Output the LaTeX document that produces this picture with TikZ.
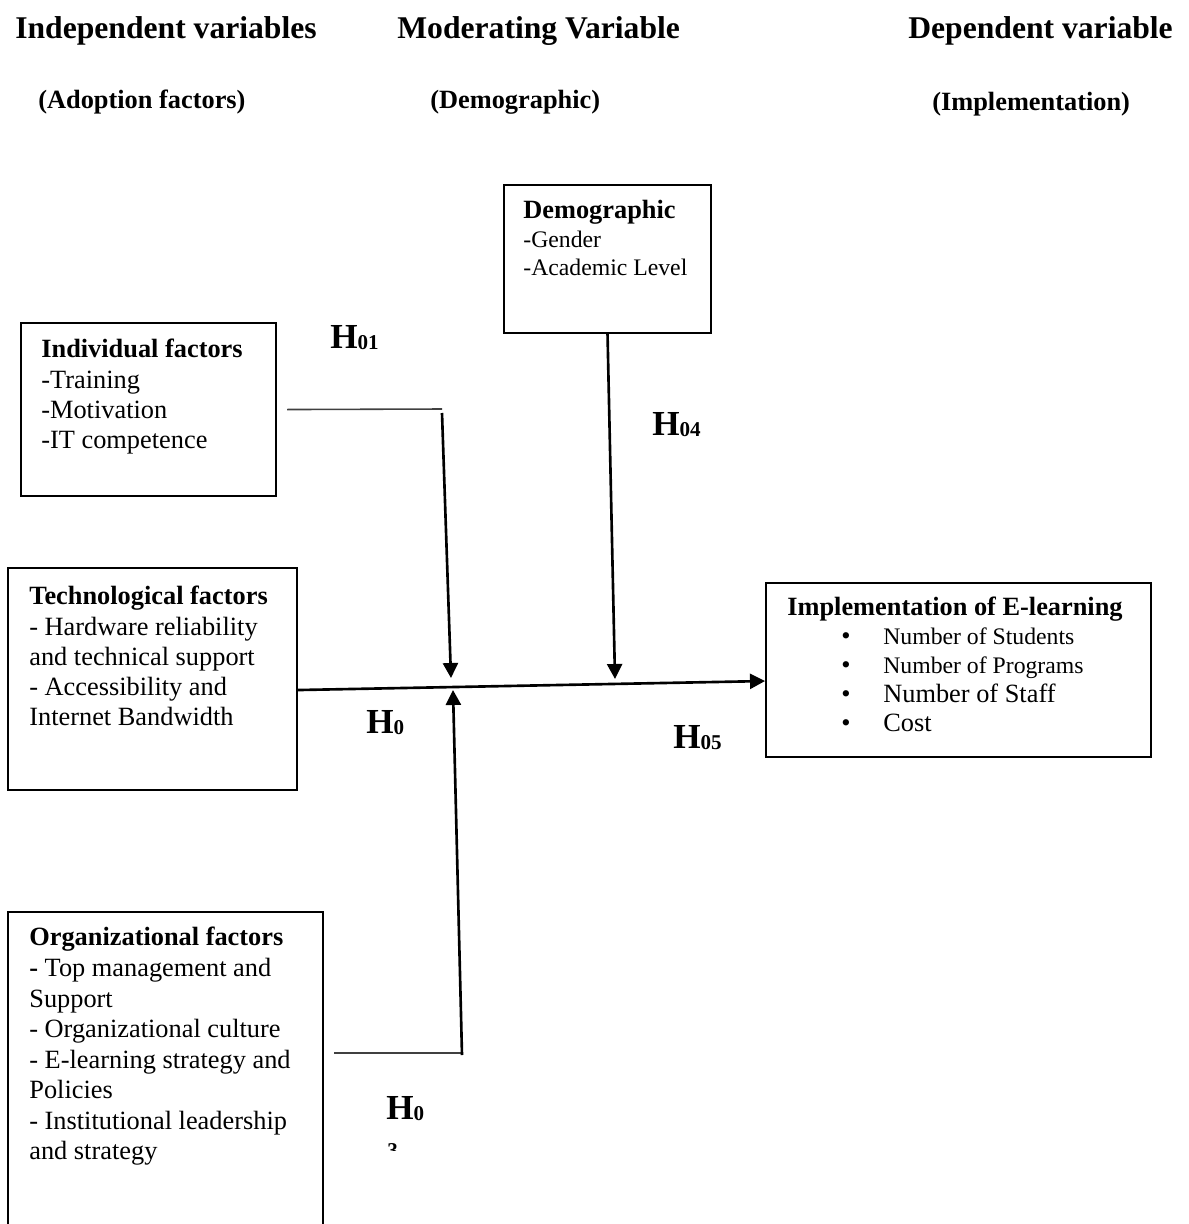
\documentclass[tikz,border=0pt]{standalone}
\usepackage{fontspec}
\setmainfont{Liberation Serif}
\usepackage{tikz}
\usetikzlibrary{arrows.meta}

\newcommand{\hyplabel}[1]{\textbf{H\raisebox{-1pt}{\fontsize{12}{12}\selectfont #1}}}

\begin{document}
\begin{tikzpicture}[
    x=0.02cm, y=-0.02cm,
    heading/.style={
        anchor=base west,
        inner sep=0pt,
        font=\fontsize{18}{20}\selectfont\bfseries
    },
    subheading/.style={
        heading,
        font=\fontsize{15}{17}\selectfont\bfseries
    },
    factorbox/.style={
        draw,
        line width=1.2pt,
        inner sep=0pt,
        anchor=north west
    },
    boxtext/.style={
        anchor=north west,
        inner sep=0pt,
        align=left,
        font=\fontsize{15}{17.2}\selectfont
    },
    hyp/.style={
        anchor=base west,
        inner sep=0pt,
        font=\fontsize{20}{22}\selectfont
    },
    link/.style={
        draw=black!75,
        line width=0.9pt
    },
    effect/.style={
        line width=1.5pt,
        -{Triangle[length=0.3cm,width=0.3cm]}
    }
]

\useasboundingbox (0,0) rectangle (1188,1224);
\clip (0,0) rectangle (1188,1224);

% ============================================================
% Column titles
% ============================================================

\node[heading] (indephead) at (15,38) {Independent variables};
\node[heading] (modhead) at (397,38) {Moderating Variable};
\node[heading] (dephead) at (908,38) {Dependent variable};

\node[subheading] (indepsub) at (38,108) {(Adoption factors)};
\node[subheading] (modsub) at (430,108) {(Demographic)};
\node[subheading] (depsub) at (932,110) {(Implementation)};

% ============================================================
% Moderating variable
% ============================================================

\node[factorbox, minimum width=4.14cm, minimum height=2.96cm]
    (demo) at (503,184) {};
\node[boxtext, font=\fontsize{13.5}{16.2}\selectfont] (demotext) at (523,200) {
    {\fontsize{15}{16.2}\selectfont\bfseries Demographic}\\
    -Gender\\
    -Academic Level
};

% ============================================================
% Independent variables
% ============================================================

\node[factorbox, minimum width=5.1cm, minimum height=3.46cm]
    (ind) at (20,322) {};
\node[boxtext] (indtext) at (41,339) {
    \textbf{Individual factors}\\
    -Training\\
    -Motivation\\
    -IT competence
};

\node[factorbox, minimum width=5.78cm, minimum height=4.44cm]
    (tech) at (7,567) {};
\node[boxtext] (techtext) at (29,586) {
    \textbf{Technological factors}\\
    - Hardware reliability\\
    and technical support\\
    - Accessibility and\\
    Internet Bandwidth
};

\node[factorbox, minimum width=6.3cm, minimum height=6.8cm]
    (org) at (7,911) {};
\node[boxtext, font=\fontsize{15}{17.4}\selectfont] (orgtext) at (29,927) {
    \textbf{Organizational factors}\\
    \textbf{-} Top management and\\
    Support\\
    - Organizational culture\\
    - E-learning strategy and\\
    Policies\\
    - Institutional leadership\\
    and strategy
};

% ============================================================
% Dependent variable
% ============================================================

\node[factorbox, minimum width=7.7cm, minimum height=3.48cm]
    (impl) at (765,582) {};
\node[boxtext, font=\fontsize{15}{16.5}\selectfont] (impltext) at (787,597) {
    \textbf{Implementation of E-learning}\\
    \hspace*{1.08cm}\makebox[0.84cm][l]{\textbullet}{\fontsize{13.5}{16.5}\selectfont Number of Students}\\
    \hspace*{1.08cm}\makebox[0.84cm][l]{\textbullet}{\fontsize{13.5}{16.5}\selectfont Number of Programs}\\
    \hspace*{1.08cm}\makebox[0.84cm][l]{\textbullet}Number of Staff\\
    \hspace*{1.08cm}\makebox[0.84cm][l]{\textbullet}Cost
};

% ============================================================
% Connectors
% ============================================================

\coordinate (indbend) at (442,409);
\coordinate (orgbend) at (462,1053);
\coordinate (mergetop) at (451,678);
\coordinate (mergebot) at (453,690);
\coordinate (demotip) at (615,679);

\draw[link] ([xshift=0.2cm]ind.east) -- (indbend);
\draw[effect] ([yshift=-0.08cm]indbend) -- (mergetop);

\draw[link] ([shift={(0.2cm,-2.84cm)}]org.north east) -- (orgbend);
\draw[effect] ([yshift=-0.04cm]orgbend) -- (mergebot);

\draw[effect] (demo.south) -- (demotip);

\draw[effect] ([yshift=-0.22cm]tech.east) -- ([yshift=-0.22cm]impl.west);

% ============================================================
% Hypothesis labels
% ============================================================

\node[hyp] (hone) at (330,348) {\hyplabel{01}};
\node[hyp] (hfour) at (652,435) {\hyplabel{04}};
\node[hyp] (hzero) at (366,733) {\hyplabel{0}};
\node[hyp] (hfive) at (673,748) {\hyplabel{05}};
\node[hyp] (hthree) at (386,1119) {\hyplabel{0}};

\begin{scope}
    \clip (370,1130) rectangle (420,1150);
    \node[anchor=base west, inner sep=0pt, font=\fontsize{12}{12}\selectfont\bfseries]
        (hthreeb) at (387,1157) {3};
\end{scope}

\end{tikzpicture}
\end{document}
